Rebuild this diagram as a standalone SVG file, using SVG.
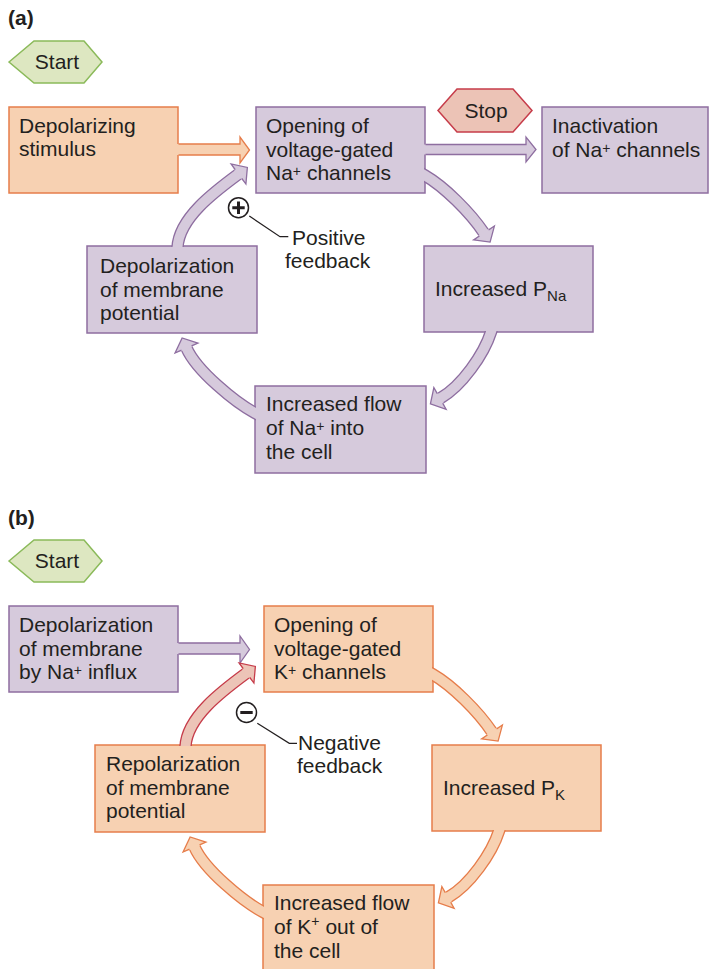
<svg xmlns="http://www.w3.org/2000/svg" width="709" height="969" viewBox="0 0 709 969">
  <style>
    text { font-family: "Liberation Sans", Arial, sans-serif; font-size: 21px; fill: #231f20; }
    .lbl { font-weight: bold; font-size: 21px; }
    .mid { text-anchor: middle; }
    .pu { fill: #d6cadc; stroke: #8e6ea0; stroke-width: 1.5; }
    .or { fill: #f7d1b2; stroke: #e67d4b; stroke-width: 1.5; }
    .start { fill: #dde7c1; stroke: #8bba5a; stroke-width: 1.5; }
    .stop { fill: #ecc3b6; stroke: #c63c4a; stroke-width: 1.5; }
    /* arrow pieces: so = shaft outline, si = shaft inner, hf = head fill, ho = outline */
    .so-pu { fill: none; stroke: #8e6ea0; stroke-width: 12.4; }
    .si-pu { fill: none; stroke: #d6cadc; stroke-width: 9.8; }
    .hf-pu { fill: #d6cadc; stroke: none; }
    .ho-pu { fill: none; stroke: #8e6ea0; stroke-width: 1.3; }
    .so-or { fill: none; stroke: #e67d4b; stroke-width: 12.4; }
    .si-or { fill: none; stroke: #f7d1b2; stroke-width: 9.8; }
    .hf-or { fill: #f7d1b2; stroke: none; }
    .ho-or { fill: none; stroke: #e67d4b; stroke-width: 1.3; }
    .so-rd { fill: none; stroke: #c63c4a; stroke-width: 12.4; }
    .si-rd { fill: none; stroke: #ecc4b7; stroke-width: 9.8; }
    .hf-rd { fill: #ecc4b7; stroke: none; }
    .ho-rd { fill: none; stroke: #c63c4a; stroke-width: 1.3; }
    .sign { fill: #fff; stroke: #231f20; stroke-width: 1.5; }
    .bar { fill: none; stroke: #231f20; stroke-width: 3; }
    .lead { fill: none; stroke: #231f20; stroke-width: 1.2; }
  </style>
  <defs>
    <!-- keeps the loop arrows outside the cycle boxes (boxes inset by 1px) -->
    <clipPath id="cycleClip" clipPathUnits="userSpaceOnUse">
      <path clip-rule="evenodd" d="M-50,-50H760V1000H-50Z M257,108h167v84h-167Z M425,247h167v84h-167Z M88,247h168v85h-168Z M256,387h169v85h-169Z"/>
    </clipPath>
    <!-- loop arrow shafts -->
    <path id="sh1" d="M176.4,255.4 L177.5,247.5 C179,218 214.35,191.8 238.5,174"/>
    <path id="sh2" d="M418,171.5 L425,175.5 C444,186.5 470.1,212.2 484,233"/>
    <path id="sh3" d="M493.5,324.4 L491,332 C484,354 461.8,386.25 440,398.5"/>
    <path id="sh4" d="M262,416.8 L255,413 C235.6,402.7 196.45,370.9 186.5,348"/>
  </defs>

  <!-- ============ panel (a) ============ -->
  <text class="lbl" x="8" y="25">(a)</text>

  <g id="a-start">
    <polygon class="start" points="9,62 34,41 84,41 102,62 84,83 34,83"/>
    <text class="mid" x="57" y="69">Start</text>
  </g>
  <g id="a-stop">
    <polygon class="stop" points="438,110.5 457,89 513,89 532,110.5 513,132 457,132"/>
    <text class="mid" x="486" y="118">Stop</text>
  </g>
  <g id="a-stimulus">
    <rect class="or" x="9" y="107" width="169" height="86"/>
    <text x="19" y="133">Depolarizing</text>
    <text x="19" y="156">stimulus</text>
  </g>
  <g id="a-opening">
    <rect class="pu" x="256" y="107" width="169" height="86"/>
    <text x="266" y="133">Opening of</text>
    <text x="266" y="157">voltage-gated</text>
    <text x="266" y="180">Na<tspan dy="-4" font-size="14">+</tspan><tspan dy="4"> channels</tspan></text>
  </g>
  <g id="a-inactivation">
    <rect class="pu" x="542" y="107" width="166" height="86"/>
    <text x="552" y="133">Inactivation</text>
    <text x="552" y="157">of Na<tspan dy="-4" font-size="14">+</tspan><tspan dy="4"> channels</tspan></text>
  </g>
  <g id="a-pna">
    <rect class="pu" x="424" y="246" width="169" height="86"/>
    <text x="435" y="296">Increased P<tspan dy="5" font-size="15">Na</tspan></text>
  </g>
  <g id="a-flow">
    <rect class="pu" x="255" y="386" width="171" height="87"/>
    <text x="266" y="411">Increased flow</text>
    <text x="266" y="435">of Na<tspan dy="-4" font-size="14">+</tspan><tspan dy="4"> into</tspan></text>
    <text x="266" y="459">the cell</text>
  </g>
  <g id="a-depolarization">
    <rect class="pu" x="87" y="246" width="170" height="87"/>
    <text x="100" y="273">Depolarization</text>
    <text x="100" y="297">of membrane</text>
    <text x="100" y="320">potential</text>
  </g>
  <g id="a-positive">
    <polyline class="lead" points="249.3,216 280,236.7 288.3,236.7"/>
    <circle class="sign" cx="238.5" cy="207.7" r="10"/>
    <path class="bar" d="M232.3,207.7h12.4M238.5,201.5v12.4"/>
    <text x="292" y="245">Positive</text>
    <text x="285" y="268">feedback</text>
  </g>

  <g id="a-connectors">
    <!-- straight arrows -->
    <polygon class="hf-or" points="176,144 240,144 240,137 249.5,150 240,163 240,155 176,155"/>
    <polyline class="ho-or" points="178.5,144 240,144 240,137 249.5,150 240,163 240,155 178.5,155"/>
    <polygon class="hf-pu" points="423,144.5 526,144.5 526,137 536,149.5 526,162 526,154.5 423,154.5"/>
    <polyline class="ho-pu" points="425.5,144.5 526,144.5 526,137 536,149.5 526,162 526,154.5 425.5,154.5"/>
    <!-- positive feedback loop -->
    <g clip-path="url(#cycleClip)">
      <use href="#sh1" class="so-pu"/><use href="#sh1" class="si-pu"/>
      <polygon class="hf-pu" points="240.96,179.03 245.91,184.06 247.36,167.48 231.09,163.94 234.44,170.17"/>
      <polyline class="ho-pu" points="241.76,178.43 245.91,184.06 247.36,167.48 231.09,163.94 235.24,169.57"/>
      <use href="#sh2" class="so-pu"/><use href="#sh2" class="si-pu"/>
      <polygon class="hf-pu" points="478.87,235.22 473.6,239.94 490.1,242.15 494.4,226.06 488.03,229.12"/>
      <polyline class="ho-pu" points="479.42,236.05 473.6,239.94 490.1,242.15 494.4,226.06 488.58,229.95"/>
      <use href="#sh3" class="so-pu"/><use href="#sh3" class="si-pu"/>
      <polygon class="hf-pu" points="438.17,393.21 433.87,387.6 430.41,403.89 446.13,409.4 443.57,402.81"/>
      <polyline class="ho-pu" points="437.3,393.7 433.87,387.6 430.41,403.89 446.13,409.4 442.7,403.3"/>
      <use href="#sh4" class="so-pu"/><use href="#sh4" class="si-pu"/>
      <polygon class="hf-pu" points="191.94,346.73 197.95,343.02 182.12,337.92 175.05,352.98 181.86,351.11"/>
      <polyline class="ho-pu" points="191.54,345.81 197.95,343.02 182.12,337.92 175.05,352.98 181.46,350.19"/>
    </g>
  </g>

  <!-- ============ panel (b) ============ -->
  <text class="lbl" x="8" y="525">(b)</text>

  <g id="b-start">
    <polygon class="start" points="9,561 34,540 84,540 102,561 84,582 34,582"/>
    <text class="mid" x="57" y="568">Start</text>
  </g>
  <g id="b-depolarization-na">
    <rect class="pu" x="9" y="606" width="169" height="86"/>
    <text x="19" y="632">Depolarization</text>
    <text x="19" y="655.5">of membrane</text>
    <text x="19" y="679">by Na<tspan dy="-4" font-size="14">+</tspan><tspan dy="4"> influx</tspan></text>
  </g>
  <g id="b-opening">
    <rect class="or" x="264" y="606" width="169" height="86"/>
    <text x="274" y="632">Opening of</text>
    <text x="274" y="656">voltage-gated</text>
    <text x="274" y="679">K<tspan dy="-4" font-size="14">+</tspan><tspan dy="4"> channels</tspan></text>
  </g>
  <g id="b-pk">
    <rect class="or" x="432" y="745" width="169" height="86"/>
    <text x="443" y="795">Increased P<tspan dy="5" font-size="15">K</tspan></text>
  </g>
  <g id="b-flow">
    <rect class="or" x="263" y="885" width="171" height="87"/>
    <text x="274" y="910">Increased flow</text>
    <text x="274" y="934">of K<tspan dy="-8" font-size="14">+</tspan><tspan dy="8"> out of</tspan></text>
    <text x="274" y="958">the cell</text>
  </g>
  <g id="b-repolarization">
    <rect class="or" x="95" y="745" width="170" height="87"/>
    <text x="106" y="771">Repolarization</text>
    <text x="106" y="795">of membrane</text>
    <text x="106" y="818">potential</text>
  </g>
  <g id="b-negative">
    <polyline class="lead" points="257.3,723.3 289.3,743.3 297,743.3"/>
    <circle class="sign" cx="246.5" cy="712.5" r="10"/>
    <path class="bar" d="M240.3,712.5h12.4"/>
    <text x="298" y="750">Negative</text>
    <text x="297" y="773">feedback</text>
  </g>

  <g id="b-connectors">
    <polygon class="hf-pu" points="176,643 240,643 240,636 249.5,649.5 240,663 240,654 176,654"/>
    <polyline class="ho-pu" points="178.5,643 240,643 240,636 249.5,649.5 240,663 240,654 178.5,654"/>
    <!-- negative feedback loop: same loop geometry as panel (a) -->
    <g transform="translate(8,499)" clip-path="url(#cycleClip)">
      <use href="#sh1" class="so-rd"/><use href="#sh1" class="si-rd"/>
      <polygon class="hf-rd" points="240.96,179.03 245.91,184.06 247.36,167.48 231.09,163.94 234.44,170.17"/>
      <polyline class="ho-rd" points="241.76,178.43 245.91,184.06 247.36,167.48 231.09,163.94 235.24,169.57"/>
      <use href="#sh2" class="so-or"/><use href="#sh2" class="si-or"/>
      <polygon class="hf-or" points="478.87,235.22 473.6,239.94 490.1,242.15 494.4,226.06 488.03,229.12"/>
      <polyline class="ho-or" points="479.42,236.05 473.6,239.94 490.1,242.15 494.4,226.06 488.58,229.95"/>
      <use href="#sh3" class="so-or"/><use href="#sh3" class="si-or"/>
      <polygon class="hf-or" points="438.17,393.21 433.87,387.6 430.41,403.89 446.13,409.4 443.57,402.81"/>
      <polyline class="ho-or" points="437.3,393.7 433.87,387.6 430.41,403.89 446.13,409.4 442.7,403.3"/>
      <use href="#sh4" class="so-or"/><use href="#sh4" class="si-or"/>
      <polygon class="hf-or" points="191.94,346.73 197.95,343.02 182.12,337.92 175.05,352.98 181.86,351.11"/>
      <polyline class="ho-or" points="191.54,345.81 197.95,343.02 182.12,337.92 175.05,352.98 181.46,350.19"/>
    </g>
  </g>
</svg>
